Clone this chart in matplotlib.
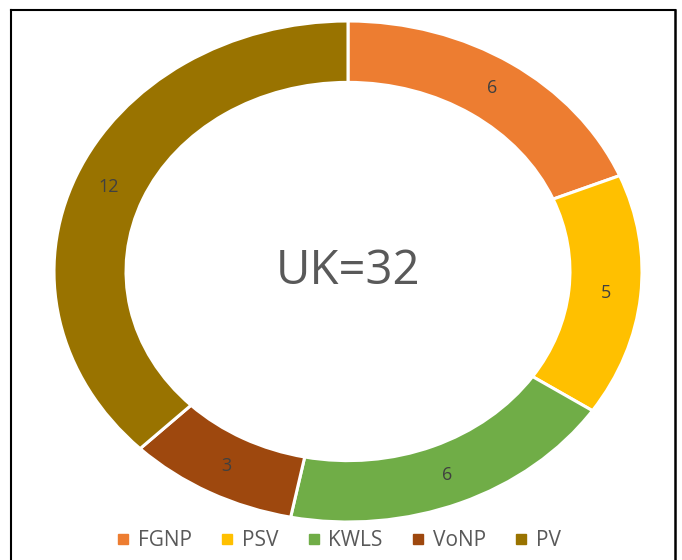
import matplotlib.pyplot as plt
from matplotlib.lines import Line2D

labels = ['FGNP', 'PSV', 'KWLS', 'VoNP', 'PV']
values = [6, 5, 6, 3, 12]
colors = ['#ED7D31', '#FFC000', '#70AD47', '#9E480E', '#997300']
total_text = 'UK=32'

plt.rcParams['font.family'] = ['Open Sans', 'DejaVu Sans']

W, H = 682, 560
fig = plt.figure(figsize=(W / 100, H / 100), dpi=100)

# donut is stretched a bit wider than tall, as in the original
ax = fig.add_axes([54 / W, (H - 522) / H, 588 / W, 501 / H])
wedges, texts = ax.pie(values, colors=colors, startangle=90, counterclock=False,
                       radius=1, labels=[str(v) for v in values], labeldistance=0.88,
                       wedgeprops=dict(width=0.245, edgecolor='white', linewidth=2.2),
                       textprops=dict(color='#404040', fontsize=13))
for t in texts:
    t.set_ha('center')
    t.set_va('center')
ax.set_aspect('auto')
ax.set_xlim(-1, 1)
ax.set_ylim(-1, 1)
ax.axis('off')

ax.text(0, 0, total_text, ha='center', va='center', fontsize=34, color='#595959')

handles = [Line2D([], [], marker='s', linestyle='none', markersize=7,
                  markerfacecolor=c, markeredgecolor=c) for c in colors]
fig.legend(handles, labels, loc='center', bbox_to_anchor=(338 / W, 1 - 541 / H),
           ncol=5, frameon=False, fontsize=15, handletextpad=0.3,
           columnspacing=1.3, handlelength=0.8, labelcolor='#595959')

# frame around the picture (bottom edge falls outside)
fc = '#000000'
fig.add_artist(Line2D([11 / W, 675 / W], [1 - 10 / H, 1 - 10 / H], color=fc, lw=1.5))
fig.add_artist(Line2D([11 / W, 11 / W], [0, 1 - 10 / H], color=fc, lw=1.5))
fig.add_artist(Line2D([675 / W, 675 / W], [0, 1 - 10 / H], color=fc, lw=1.8))

fig.savefig('out.png', dpi=100)
